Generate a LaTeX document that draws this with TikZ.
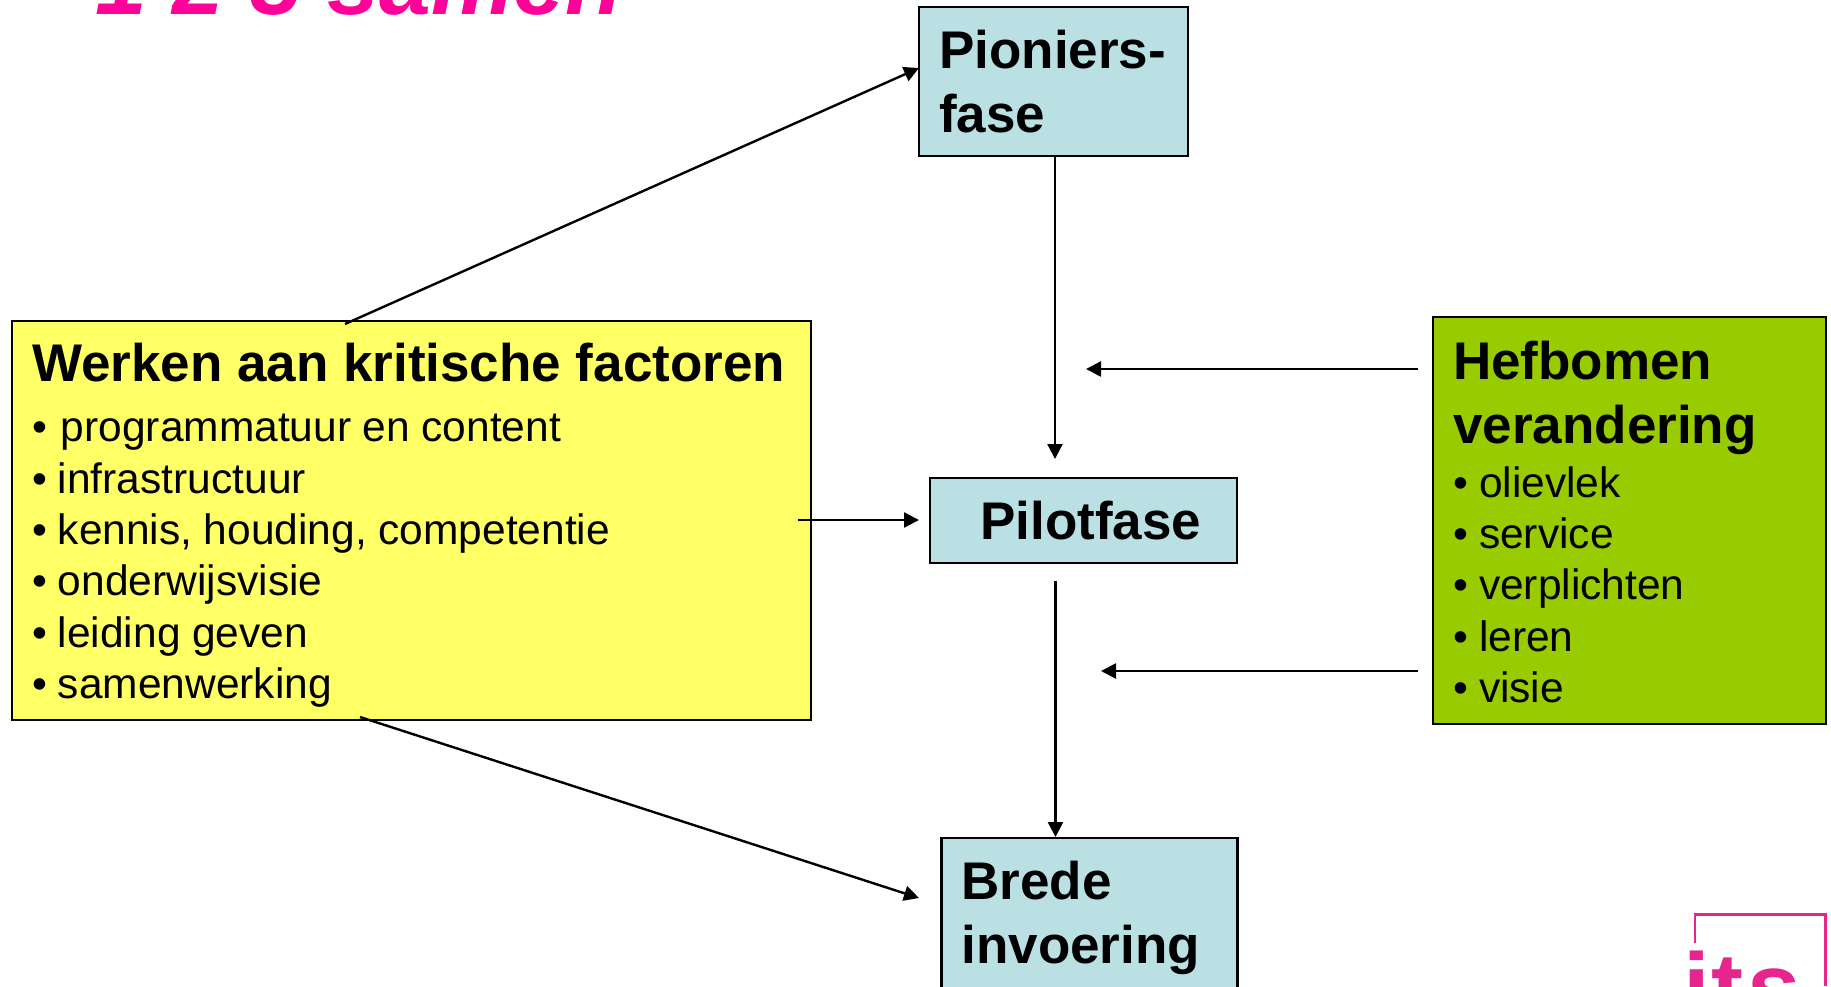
\documentclass[tikz,border=0pt]{standalone}
\usepackage{fontspec}
\setmainfont{Liberation Sans}
\usetikzlibrary{arrows.meta}
\definecolor{paleblue}{HTML}{BBE0E3}
\definecolor{softyellow}{HTML}{FFFF66}
\definecolor{leaf}{HTML}{99CC00}
\definecolor{titlepink}{HTML}{FF0099}
\definecolor{logopink}{HTML}{E6268C}
\newcommand{\headfont}{\fontsize{53}{51.4}\bfseries\selectfont}
\newcommand{\itemfont}{\fontsize{42.5}{51.4}\mdseries\selectfont\spaceskip=.27em\relax}
\newcommand{\itm}[1]{\itemfont\textbullet\hspace{11pt}#1}
\newcommand{\pad}[1]{\rule[-#1]{0pt}{#1}}
\tikzset{
  box/.style={draw=black,line width=2.4pt,anchor=north west,inner ysep=0pt,align=flush left,font=\headfont},
  conn/.style={line width=2.4pt,-{Triangle[length=15pt,width=15pt]}}
}
\begin{document}
\begin{tikzpicture}[x=1pt,y=-1pt]
\useasboundingbox (0,0) rectangle (1831,986);
\clip (0,0) rectangle (1831,986);
\fill[white] (0,0) rectangle (1831,986);
\node[anchor=base west,inner sep=0pt,text=titlepink,font=\fontsize{93}{93}\bfseries\itshape\selectfont] (title) at (95,14) {1 2 3 samen};
% logo
\draw[logopink,line width=2.4pt] (1695,943) -- (1695,914.5) -- (1825.5,914.5) -- (1825.5,986);
\node[anchor=base west,inner sep=0pt,text=logopink,font=\fontsize{96}{96}\bfseries\selectfont] (logo) at (1683,1020) {i\kern2pt t\kern4pt s};
% boxes
\node[box,fill=paleblue,minimum width=269pt,minimum height=149pt,text width=229pt,inner xsep=20pt] (pion) at (918,6) {Pioniers-\\[12.6pt]fase};
\node[box,fill=paleblue,minimum width=307pt,minimum height=85pt,text width=257pt,inner xsep=25pt] (pilot) at (929,477) {\hspace{25pt}Pilotfase};
\node[box,fill=paleblue,minimum width=296pt,minimum height=165pt,text width=256pt,inner xsep=20pt] (brede) at (940.3,837) {Brede\\[12.6pt]invoering\pad{16pt}};
\node[box,fill=softyellow,minimum width=799pt,minimum height=399pt,text width=759pt,inner xsep=20pt] (yellow) at (10.8,320) {\fontsize{53}{51.4}\selectfont\rule{0pt}{48pt}Werken aan kritische factoren\\[8.6pt]
  \itemfont\textbullet\hspace{14pt}programmatuur en content\\
  \itm{infrastructuur}\\
  \itm{kennis, houding, competentie}\\
  \itm{onderwijsvisie}\\
  \itm{leiding geven}\\
  \itm{samenwerking}};
\node[box,fill=leaf,minimum width=393pt,minimum height=407pt,text width=353pt,inner xsep=20pt] (green) at (1432,316) {\rule{0pt}{41pt}Hefbomen\\[12.6pt]verandering\\[2.5pt]
  \itm{olievlek}\\
  \itm{service}\\
  \itm{verplichten}\\
  \itm{leren}\\
  \itm{visie}};
% free ends
\coordinate (yellowtop) at (345,324);
\coordinate (yellowlow) at (360,717);
\coordinate (pilotin) at (1055,459);
\coordinate (leftin) at (919,520);
\coordinate (yellowout) at (798,520);
\coordinate (greenoutA) at (1418,369);
\coordinate (gapA) at (1086,369);
\coordinate (greenoutB) at (1418,671);
\coordinate (gapB) at (1101,671);
\coordinate (pilotout) at (1055.5,581);
\coordinate (bredein) at (919,898);
\coordinate (pionin) at (919,68);
% connectors
\draw[conn] (yellowtop) -- (pionin);
\draw[conn] (pion.south -| pilotin) -- (pilotin);
\draw[conn] (greenoutA) -- (gapA);
\draw[conn] (yellowout) -- (leftin);
\draw[conn] (pilotout) -- (brede.north -| pilotout);
\draw[conn] (greenoutB) -- (gapB);
\draw[conn] (yellowlow) -- (bredein);
\end{tikzpicture}
\end{document}
